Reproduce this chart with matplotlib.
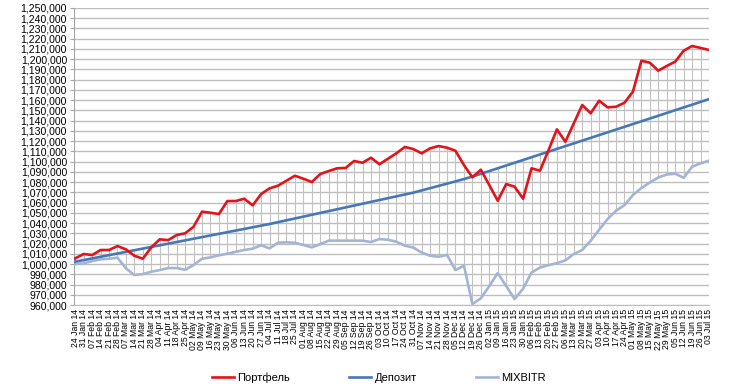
import numpy as np
import pandas as pd
import matplotlib
matplotlib.use('Agg')
import matplotlib.pyplot as plt
from matplotlib.ticker import FuncFormatter, MultipleLocator

plt.rcParams['font.family'] = ['Liberation Sans', 'DejaVu Sans']

# weekly dates, 24 Jan 14 .. 03 Jul 15
dates = pd.date_range('2014-01-24', periods=76, freq='7D')
dateLabels = [d.strftime('%d %b %y') for d in dates]

# values in thousands
portfel = [1005.6, 1009.8, 1008.8, 1013.7, 1013.7, 1017.6, 1014.3, 1008.1, 1005.2, 1016.3,
           1024.1, 1023.4, 1028.3, 1030.0, 1036.4, 1051.1, 1050.1, 1048.8, 1061.5, 1061.5,
           1063.8, 1057.3, 1068.4, 1073.9, 1076.5, 1081.4, 1086.2, 1083.3, 1080.1, 1087.9,
           1090.8, 1093.5, 1093.8, 1100.6, 1098.9, 1103.8, 1097.4, 1102.8, 1108.1, 1114.3,
           1112.3, 1108.1, 1113.0, 1115.2, 1113.6, 1110.6, 1096.7, 1084.7, 1092.1, 1077.1,
           1061.8, 1078.1, 1075.5, 1063.8, 1093.5, 1091.1, 1111.0, 1131.5, 1119.4, 1137.4,
           1155.3, 1147.2, 1159.5, 1153.0, 1153.6, 1157.5, 1168.3, 1198.5, 1196.6, 1188.8,
           1193.4, 1197.6, 1208.3, 1212.9, 1211.0, 1209.0]

deposit = [1002.3, 1003.9, 1005.5, 1007.1, 1008.7, 1010.3, 1011.9, 1013.5, 1015.1, 1016.7,
           1018.3, 1019.9, 1021.5, 1023.1, 1024.7, 1026.3, 1027.9, 1029.5, 1031.1, 1032.7,
           1034.3, 1035.9, 1037.5, 1039.1, 1040.9, 1042.7, 1044.5, 1046.3, 1048.1, 1049.9,
           1051.7, 1053.5, 1055.3, 1057.1, 1058.9, 1060.7, 1062.5, 1064.3, 1066.1, 1067.9,
           1069.7, 1071.9, 1074.1, 1076.3, 1078.5, 1080.7, 1083.0, 1085.4, 1088.1, 1090.8,
           1093.5, 1096.2, 1098.9, 1101.6, 1104.3, 1107.0, 1109.7, 1112.4, 1115.1, 1117.8,
           1120.5, 1123.2, 1125.9, 1128.6, 1131.3, 1134.0, 1136.7, 1139.4, 1142.1, 1144.8,
           1147.5, 1150.2, 1152.9, 1155.6, 1158.3, 1161.0]

mixbitr = [1000.0, 1000.7, 1002.9, 1004.6, 1005.2, 1006.2, 995.8, 989.3, 990.2, 992.5,
           994.1, 996.1, 996.1, 994.4, 999.0, 1005.2, 1006.5, 1008.5, 1010.1, 1012.0,
           1013.7, 1015.0, 1018.3, 1015.3, 1020.8, 1021.2, 1020.8, 1018.6, 1016.3, 1019.5,
           1022.8, 1022.8, 1022.8, 1022.8, 1022.8, 1021.5, 1024.4, 1023.7, 1021.8, 1017.9,
           1016.1, 1011.2, 1008.1, 1007.1, 1008.8, 994.1, 998.4, 960.9, 966.5, 978.5,
           991.2, 978.5, 965.8, 976.0, 991.7, 996.6, 998.9, 1000.9, 1003.6, 1009.8,
           1013.7, 1022.8, 1033.5, 1044.0, 1052.0, 1057.5, 1067.4, 1074.2, 1079.6, 1084.5,
           1087.4, 1088.2, 1084.2, 1095.0, 1098.3, 1100.9]

x = np.arange(len(dateLabels))
pf = np.array(portfel) * 1000
dp = np.array(deposit) * 1000
mx = np.array(mixbitr) * 1000

fig = plt.figure(figsize=(7.36, 3.86), dpi=100)
ax = fig.add_axes([0.1005, 0.2098, 0.8628, 0.7695])

# high-low lines
hi = np.maximum(np.maximum(pf, dp), mx)
lo = np.minimum(np.minimum(pf, dp), mx)
ax.vlines(x, lo, hi, color='#c3c3c3', linewidth=0.8, zorder=2)

ax.plot(x, mx, color='#a3b4d4', linewidth=1.9, label='MIXBITR', zorder=3)
ax.plot(x, dp, color='#4677b8', linewidth=1.9, label='Депозит', zorder=4)
ax.plot(x, pf, color='#e3131b', linewidth=1.9, label='Портфель', zorder=5)

ax.set_xlim(-0.15, 75)
ax.set_ylim(960000, 1250000)
ax.yaxis.set_major_locator(MultipleLocator(10000))
ax.yaxis.set_major_formatter(FuncFormatter(lambda v, p: '{:,.0f}'.format(v)))
ax.grid(True, axis='y', color='#bdbdbd', linewidth=1.0, zorder=0)
ax.set_axisbelow(True)

ax.set_xticks(x)
ax.set_xticklabels(dateLabels, rotation=90, fontsize=6.2)
ax.tick_params(axis='x', length=0, pad=3)
ax.tick_params(axis='y', labelsize=7.6, length=3, color='#a6a6a6', pad=2)

for s in ['top', 'right']:
    ax.spines[s].set_visible(False)
ax.spines['left'].set_color('#a6a6a6')
ax.spines['bottom'].set_color('#bdbdbd')

handles, labels = ax.get_legend_handles_labels()
order = [2, 1, 0]
fig.legend([handles[i] for i in order], [labels[i] for i in order],
           loc='center', bbox_to_anchor=(0.515, 0.022), ncol=3, frameon=False,
           fontsize=8, handlelength=2.0, handletextpad=0.3, columnspacing=5.3)

fig.savefig('out.png', dpi=100)
